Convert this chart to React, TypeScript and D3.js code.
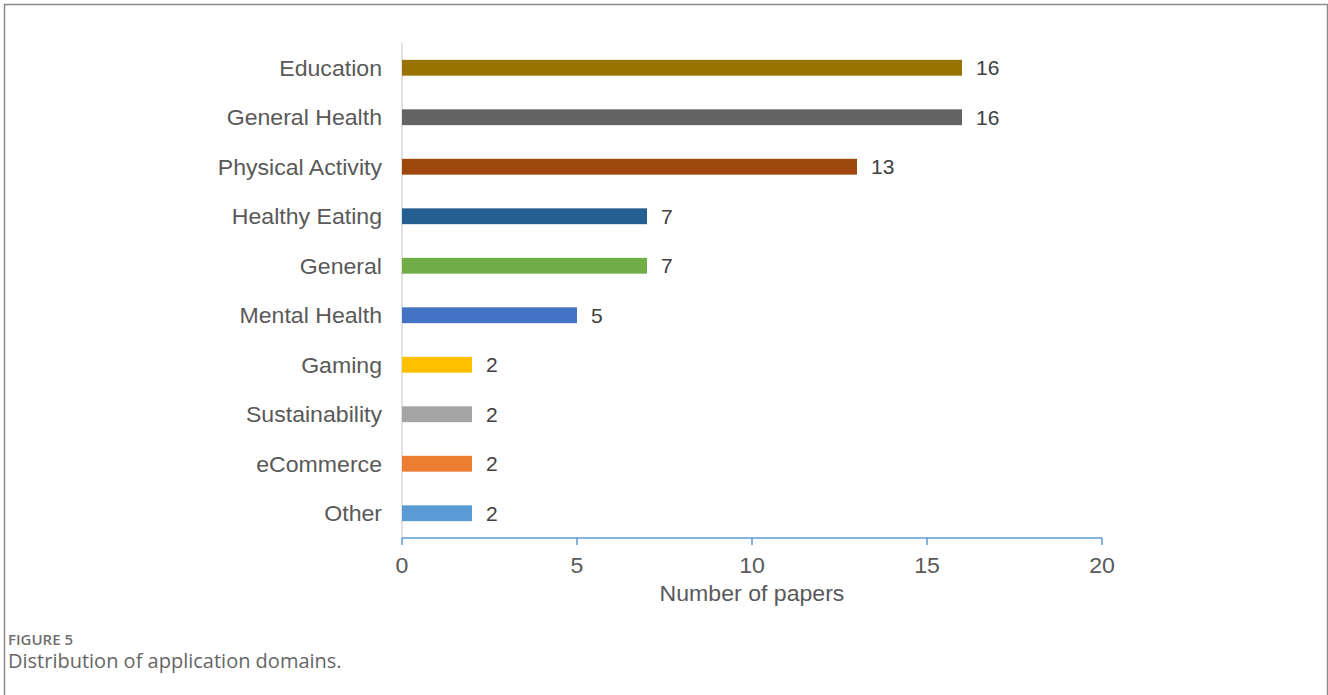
import React from "react";
import * as d3 from "d3";

const categories = ["Education", "General Health", "Physical Activity", "Healthy Eating", "General", "Mental Health", "Gaming", "Sustainability", "eCommerce", "Other"];
const values = [16, 16, 13, 7, 7, 5, 2, 2, 2, 2];
const colors = ["#997300", "#636363", "#9E480E", "#255E91", "#70AD47", "#4472C4", "#FFC000", "#A5A5A5", "#ED7D31", "#5B9BD5"];
const xTicks = [0, 5, 10, 15, 20];

export default function App() {
  const W = 1328, H = 695;
  const x = d3.scaleLinear().domain([0, 20]).range([402, 1102]);
  const y = d3.scaleBand<string>().domain(categories).range([43, 538]).paddingInner(0.68).paddingOuter(0.34);
  const bh = y.bandwidth();
  const font = "'Liberation Sans', Arial, sans-serif";
  const sx = 1.05;
  return (
    <svg width={W} height={H} style={{ position: "absolute", left: 0, top: 0 }}>
      <rect x={0} y={0} width={W} height={H} fill="#fff" />
      <rect x={4.5} y={4.5} width={1323} height={720} fill="none" stroke="#8a8a8a" strokeWidth={1.5} />
      <line x1={x(0)} x2={x(0)} y1={43} y2={538} stroke="#d9d9d9" strokeWidth={1.5} />
      {categories.map((c, i) => (
        <g key={c}>
          <rect x={x(0)} y={y(c)!} width={x(values[i]) - x(0)} height={bh} fill={colors[i]} />
          <text transform={`translate(${x(0) - 20},${y(c)! + bh / 2}) scale(${sx},1)`} dy="0.36em" textAnchor="end" fontFamily={font} fontSize={22} fill="#595959">{c}</text>
          <text x={x(values[i]) + 14} y={y(c)! + bh / 2} dy="0.36em" fontFamily={font} fontSize={21} fill="#404040">{values[i]}</text>
        </g>
      ))}
      <line x1={x(0)} x2={x(20)} y1={538} y2={538} stroke="#5B9BD5" strokeWidth={1.5} />
      {xTicks.map(t => (
        <g key={t}>
          <line x1={x(t)} x2={x(t)} y1={538} y2={545} stroke="#5B9BD5" strokeWidth={1.5} />
          <text transform={`translate(${x(t)},565) scale(${sx},1)`} dy="0.36em" textAnchor="middle" fontFamily={font} fontSize={22} fill="#595959">{t}</text>
        </g>
      ))}
      <text transform={`translate(752,593) scale(${sx},1)`} dy="0.36em" textAnchor="middle" fontFamily={font} fontSize={22} fill="#595959">Number of papers</text>
      <text x={8} y={645} fontFamily="'Open Sans', sans-serif" fontSize={15} fontWeight={600} fill="#707070">FIGURE 5</text>
      <text x={8} y={668} fontFamily="'Open Sans', sans-serif" fontSize={20} fill="#666">Distribution of application domains.</text>
    </svg>
  );
}
